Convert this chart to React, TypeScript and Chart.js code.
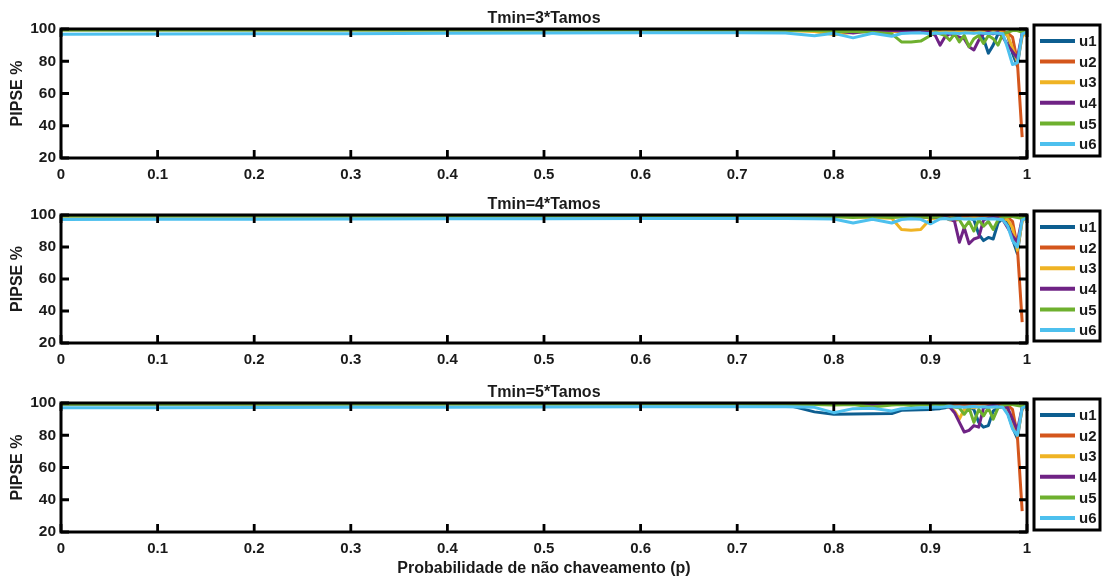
import React, { useEffect, useRef } from 'react';
import { Chart, registerables } from 'chart.js';

Chart.register(...registerables);

// ---------- data ----------
const X_VALUES = [
  0, 0.1, 0.2, 0.3, 0.4, 0.5, 0.6, 0.7,
  0.75, 0.78, 0.8, 0.82, 0.84, 0.86, 0.87, 0.88, 0.89,
  0.9, 0.905, 0.91, 0.915, 0.92, 0.925, 0.93, 0.935, 0.94, 0.945, 0.95,
  0.955, 0.96, 0.965, 0.97, 0.975, 0.98, 0.985, 0.99, 0.995, 1,
];

const X_TICK_LABELS = ['0', '0.1', '0.2', '0.3', '0.4', '0.5', '0.6', '0.7', '0.8', '0.9', '1'];
const Y_TICK_LABELS = ['20', '40', '60', '80', '100'];

const SERIES_NAMES = ['u1', 'u2', 'u3', 'u4', 'u5', 'u6'];
const SERIES_COLORS = ['#0d5e90', '#d4561c', '#efb324', '#6f2385', '#6eb02e', '#4dc0ee'];

const PANEL_TITLES = ['Tmin=3*Tamos', 'Tmin=4*Tamos', 'Tmin=5*Tamos'];
const X_TITLE = 'Probabilidade de não chaveamento (p)';
const Y_TITLE = 'PIPSE %';

// Tmin = 3*Tamos
const T3_U1 = [99.6, 99.6, 99.6, 99.6, 99.6, 99.6, 99.6, 99.6, 99.5, 99.5, 99.5, 99.4, 99.5, 99.5, 99.4, 99.4, 99.4, 99.3, 99.4, 99.3, 99.4, 99.3, 99.2, 99.3, 99.0, 99.2, 98.5, 98.8, 94, 85, 90, 97, 98, 96, 85, 77, 97, 99];
const T3_U2 = [99.8, 99.8, 99.8, 99.8, 99.8, 99.8, 99.8, 99.8, 99.7, 99.7, 99.7, 99.6, 99.7, 99.6, 99.6, 99.6, 99.6, 99.6, 99.6, 99.5, 99.6, 99.5, 99.5, 99.5, 99.4, 99.5, 99.3, 99.4, 99.2, 99.0, 99.2, 98.5, 98.8, 97.5, 95, 80, 33, null];
const T3_U3 = [99.5, 99.5, 99.5, 99.5, 99.5, 99.5, 99.5, 99.3, 99, 98.5, 96.5, 98, 99, 98.5, 98.5, 98, 98.5, 99, 98.5, 98, 99, 98.5, 98, 99, 98.5, 98, 97.5, 98.5, 98, 97, 98.5, 98, 97.5, 96, 88, 80, 95, 99];
const T3_U4 = [99.7, 99.7, 99.7, 99.7, 99.7, 99.7, 99.7, 99.7, 99.5, 99.4, 99, 97.5, 99, 99, 98.8, 98.5, 98.3, 98, 96, 90, 95, 97, 96, 95, 94, 89, 87, 93, 97, 98, 97, 98, 95, 90, 86, 82, 97, 99];
const T3_U5 = [99.4, 99.4, 99.4, 99.4, 99.4, 99.4, 99.4, 99.4, 99.2, 99, 98.5, 98.5, 98, 97, 92, 92, 92.5, 96, 98, 97, 96, 93, 97, 92, 96, 89, 94, 96, 91, 96, 94, 90, 97, 98, 99, 99, 98, 99];
const T3_U6 = [96.8, 96.9, 97, 97.1, 97.3, 97.5, 97.6, 97.7, 97.5, 95.8, 97.3, 94.5, 97.4, 95.5, 97.2, 97.5, 97.6, 97, 97.5, 97.3, 97.6, 97.4, 97.5, 97.2, 97.6, 97.5, 97.3, 97.6, 97.4, 97.2, 97.5, 97.4, 97, 88, 78, 79, 97, 98];

// Tmin = 4*Tamos
const T4_U1 = [99.6, 99.6, 99.6, 99.6, 99.6, 99.6, 99.6, 99.6, 99.5, 99.5, 99.4, 99.4, 99.4, 99.3, 99.3, 99.3, 99.2, 99.2, 99.1, 99.2, 99, 99.1, 99, 98.8, 99, 98.5, 97, 88, 84, 86, 85, 95, 98, 96, 85, 76, 97, 99];
const T4_U2 = [99.8, 99.8, 99.8, 99.8, 99.8, 99.8, 99.8, 99.8, 99.7, 99.7, 99.6, 99.6, 99.6, 99.5, 99.3, 99, 98.8, 98.5, 98.8, 99, 98.5, 97, 96.5, 97.5, 99, 99.3, 99.2, 99.3, 99.1, 99.2, 99, 99.2, 98.8, 98.5, 96, 80, 33, null];
const T4_U3 = [99.5, 99.5, 99.5, 99.5, 99.5, 99.5, 99.5, 99.5, 99.3, 99.2, 99, 98.8, 98.5, 98, 91, 90.5, 91, 97.5, 98, 98.3, 98, 98.5, 98.2, 98, 97.8, 98, 98.3, 98, 97.8, 98.2, 98, 97.8, 97.5, 97, 92, 78, 96, 99];
const T4_U4 = [99.7, 99.7, 99.7, 99.7, 99.7, 99.7, 99.7, 99.7, 99.6, 99.5, 99.3, 99.2, 99.3, 99.2, 99.1, 99, 99, 98.8, 98.5, 98.8, 98.5, 98, 96, 83, 92, 82, 85, 86, 97, 98, 98.5, 98, 97, 92, 87, 83, 98, 99];
const T4_U5 = [99.4, 99.4, 99.4, 99.4, 99.4, 99.4, 99.4, 99.4, 99.3, 99.2, 99, 98.5, 99, 98.5, 98.8, 98.7, 98.8, 98.5, 98.8, 98.5, 98, 97.5, 98, 97, 92, 96, 90, 97, 93, 96, 91, 97, 98.5, 99, 99, 98.5, 98, 99];
const T4_U6 = [97.2, 97.3, 97.4, 97.5, 97.6, 97.7, 97.8, 97.8, 97.8, 97.6, 97.5, 95, 97.3, 95, 97.2, 97.6, 97.3, 94.5, 96, 97.5, 97.8, 97.3, 97.6, 97.8, 97.5, 97.7, 97.4, 97.6, 97.8, 97.5, 97.6, 97.4, 97, 93, 84, 80, 97, 98];

// Tmin = 5*Tamos
const T5_U1 = [99.3, 99.3, 99.4, 99.4, 99.5, 99.5, 99.5, 99.5, 99, 94.5, 93, 93.2, 93.3, 93.5, 95.5, 95.7, 95.8, 96, 96.3, 96.5, 97, 98, 98.5, 98.8, 98.5, 98, 96, 88, 85, 86, 95, 97, 98, 94, 85, 78, 97, 99];
const T5_U2 = [99.8, 99.8, 99.8, 99.8, 99.8, 99.8, 99.8, 99.8, 99.7, 99.6, 99.5, 99.5, 99.4, 99.4, 99.3, 99.4, 99.5, 99.2, 99, 98.5, 98, 97.5, 98.5, 99, 99.2, 99, 99.3, 99.2, 99, 99.2, 99.1, 99, 98.8, 98.5, 96, 80, 33, null];
const T5_U3 = [99.5, 99.5, 99.5, 99.5, 99.5, 99.5, 99.5, 99.5, 99.4, 99.3, 99.2, 99, 99.2, 99, 99.1, 99, 99.2, 99, 98.8, 98.5, 98, 97.5, 95, 90, 96, 97.5, 97, 98, 97.5, 98, 97.5, 97.8, 97.5, 95, 88, 80, 96, 99];
const T5_U4 = [99.7, 99.7, 99.7, 99.7, 99.7, 99.7, 99.7, 99.7, 99.6, 99.5, 99.4, 99.3, 99.4, 99.2, 99.3, 99.2, 99.1, 99, 98.8, 98.5, 98, 97.5, 94, 88, 82, 83, 86, 85, 97, 98, 98.5, 98, 97.5, 97, 90, 83, 97, 99];
const T5_U5 = [99.4, 99.4, 99.4, 99.4, 99.4, 99.4, 99.4, 99.4, 99.3, 99, 98.8, 99, 97.5, 98.8, 99, 98.5, 98.8, 98.8, 98.5, 98.8, 98.5, 98, 97.5, 97, 93, 97, 88, 96, 92, 97, 90, 97, 98.5, 99, 99, 98.5, 98, 99];
const T5_U6 = [97, 97.1, 97.2, 97.3, 97.4, 97.5, 97.6, 97.7, 97.7, 97.3, 94, 96.5, 96.8, 95, 96.5, 96.8, 97, 97.2, 97.5, 97.3, 97.6, 97.8, 97.5, 97.7, 97.4, 97.6, 97.8, 97.5, 97.6, 97.4, 97.5, 97.6, 97.3, 93, 84, 80, 97, 98];

const PANEL_SERIES = [
  [T3_U1, T3_U2, T3_U3, T3_U4, T3_U5, T3_U6],
  [T4_U1, T4_U2, T4_U3, T4_U4, T4_U5, T4_U6],
  [T5_U1, T5_U2, T5_U3, T5_U4, T5_U5, T5_U6],
];

// ---------- layout ----------
const W = 1102;
const PANELS = [
  { canvasTop: 0, canvasH: 190, plotTop: 29, plotBottom: 158 },
  { canvasTop: 190, canvasH: 188, plotTop: 215, plotBottom: 343 },
  { canvasTop: 378, canvasH: 201, plotTop: 403, plotBottom: 532 },
];
const PLOT_LEFT = 61;
const PLOT_RIGHT = 1027;
const FONT_FAMILY = '"Liberation Sans", Arial, Helvetica, sans-serif';
const TEXT_COLOR = '#1a1a1a';

const matlabPlugin = {
  id: 'matlabAxes',
  afterDatasetsDraw(chart: any, _args: any, opts: any) {
    const { ctx, chartArea: a, scales } = chart;
    ctx.save();
    // box
    ctx.strokeStyle = '#000';
    ctx.lineWidth = 3;
    ctx.strokeRect(a.left, a.top, a.right - a.left, a.bottom - a.top);
    // inward ticks
    const TL = 8;
    ctx.lineWidth = 2.8;
    ctx.beginPath();
    scales.x.ticks.forEach((t: any) => {
      const px = scales.x.getPixelForValue(t.value);
      ctx.moveTo(px, a.bottom);
      ctx.lineTo(px, a.bottom - TL);
      ctx.moveTo(px, a.top);
      ctx.lineTo(px, a.top + TL);
    });
    scales.y.ticks.forEach((t: any) => {
      const py = scales.y.getPixelForValue(t.value);
      ctx.moveTo(a.left, py);
      ctx.lineTo(a.left + TL, py);
      ctx.moveTo(a.right, py);
      ctx.lineTo(a.right - TL, py);
    });
    ctx.stroke();

    // title
    ctx.fillStyle = TEXT_COLOR;
    ctx.font = `bold 16px ${FONT_FAMILY}`;
    ctx.textAlign = 'center';
    ctx.textBaseline = 'middle';
    ctx.fillText(opts.title, (a.left + a.right) / 2, a.top - 10);

    // y title
    ctx.save();
    ctx.translate(18, (a.top + a.bottom) / 2);
    ctx.rotate(-Math.PI / 2);
    ctx.font = `bold 16px ${FONT_FAMILY}`;
    ctx.fillText(opts.yTitle, 0, 0);
    ctx.restore();

    // x title
    if (opts.xTitle) {
      ctx.font = `bold 16px ${FONT_FAMILY}`;
      ctx.fillText(opts.xTitle, (a.left + a.right) / 2, a.bottom + 37);
    }

    // legend
    const lx = 1034;
    const lr = 1100;
    const lt = a.top - 4;
    const lb = a.bottom - 2;
    ctx.fillStyle = '#fff';
    ctx.fillRect(lx, lt, lr - lx, lb - lt);
    ctx.strokeStyle = '#000';
    ctx.lineWidth = 3;
    ctx.strokeRect(lx, lt, lr - lx, lb - lt);
    chart.data.datasets.forEach((ds: any, i: number) => {
      const y = lt + 16 + i * 20.6;
      ctx.strokeStyle = ds.borderColor;
      ctx.lineWidth = 4;
      ctx.beginPath();
      ctx.moveTo(1040, y);
      ctx.lineTo(1075, y);
      ctx.stroke();
      ctx.fillStyle = TEXT_COLOR;
      ctx.font = `bold 15px ${FONT_FAMILY}`;
      ctx.textAlign = 'left';
      ctx.textBaseline = 'middle';
      ctx.fillText(ds.label, 1079, y + 1);
    });
    ctx.restore();
  },
};

function buildConfig(panelIndex: number) {
  const p = PANELS[panelIndex];
  const series = PANEL_SERIES[panelIndex];
  const datasets = series.map((vals, i) => ({
    label: SERIES_NAMES[i],
    data: X_VALUES.map((x, k) => ({ x, y: vals[k] })),
    borderColor: SERIES_COLORS[i],
    backgroundColor: SERIES_COLORS[i],
    borderWidth: 3,
    pointRadius: 0,
    tension: 0,
    borderJoinStyle: 'round',
    spanGaps: false,
    order: SERIES_NAMES.length - i,
  }));
  const xHeight = p.canvasH - (p.plotBottom - p.canvasTop);
  return {
    type: 'line',
    data: { datasets },
    plugins: [matlabPlugin],
    options: {
      animation: false,
      responsive: false,
      devicePixelRatio: 1,
      layout: {
        padding: { left: 0, right: W - PLOT_RIGHT, top: p.plotTop - p.canvasTop, bottom: 0 },
      },
      plugins: {
        legend: { display: false },
        tooltip: { enabled: false },
        title: { display: false },
        matlabAxes: {
          title: PANEL_TITLES[panelIndex],
          yTitle: Y_TITLE,
          xTitle: panelIndex === 2 ? X_TITLE : '',
        },
      },
      scales: {
        x: {
          type: 'linear',
          min: 0,
          max: 1,
          grid: { display: false, drawTicks: false },
          border: { display: false },
          afterFit: (scale: any) => {
            scale.height = xHeight;
          },
          ticks: {
            stepSize: 0.1,
            autoSkip: false,
            maxRotation: 0,
            padding: 8,
            color: TEXT_COLOR,
            font: { family: FONT_FAMILY, size: 15, weight: 'bold' },
            callback: (v: any, idx: number) => X_TICK_LABELS[idx] ?? String(v),
          },
        },
        y: {
          type: 'linear',
          min: 20,
          max: 100,
          grid: { display: false, drawTicks: false },
          border: { display: false },
          afterFit: (scale: any) => {
            scale.width = PLOT_LEFT;
          },
          ticks: {
            stepSize: 20,
            padding: 5,
            color: TEXT_COLOR,
            font: { family: FONT_FAMILY, size: 15.5, weight: 'bold' },
            callback: (v: any, idx: number) => Y_TICK_LABELS[idx] ?? String(v),
          },
        },
      },
    },
  };
}

export default function App() {
  const r0 = useRef<HTMLCanvasElement | null>(null);
  const r1 = useRef<HTMLCanvasElement | null>(null);
  const r2 = useRef<HTMLCanvasElement | null>(null);

  useEffect(() => {
    const refs = [r0, r1, r2];
    const charts = refs.map((r, i) => new Chart(r.current as HTMLCanvasElement, buildConfig(i) as any));
    return () => charts.forEach((c) => c.destroy());
  }, []);

  const refs = [r0, r1, r2];
  return (
    <div style={{ position: 'absolute', left: 0, top: 0, width: W, height: 579, background: '#fff' }}>
      {PANELS.map((p, i) => (
        <canvas
          key={i}
          ref={refs[i]}
          width={W}
          height={p.canvasH}
          style={{ position: 'absolute', left: 0, top: p.canvasTop, width: W, height: p.canvasH, display: 'block' }}
        />
      ))}
    </div>
  );
}
